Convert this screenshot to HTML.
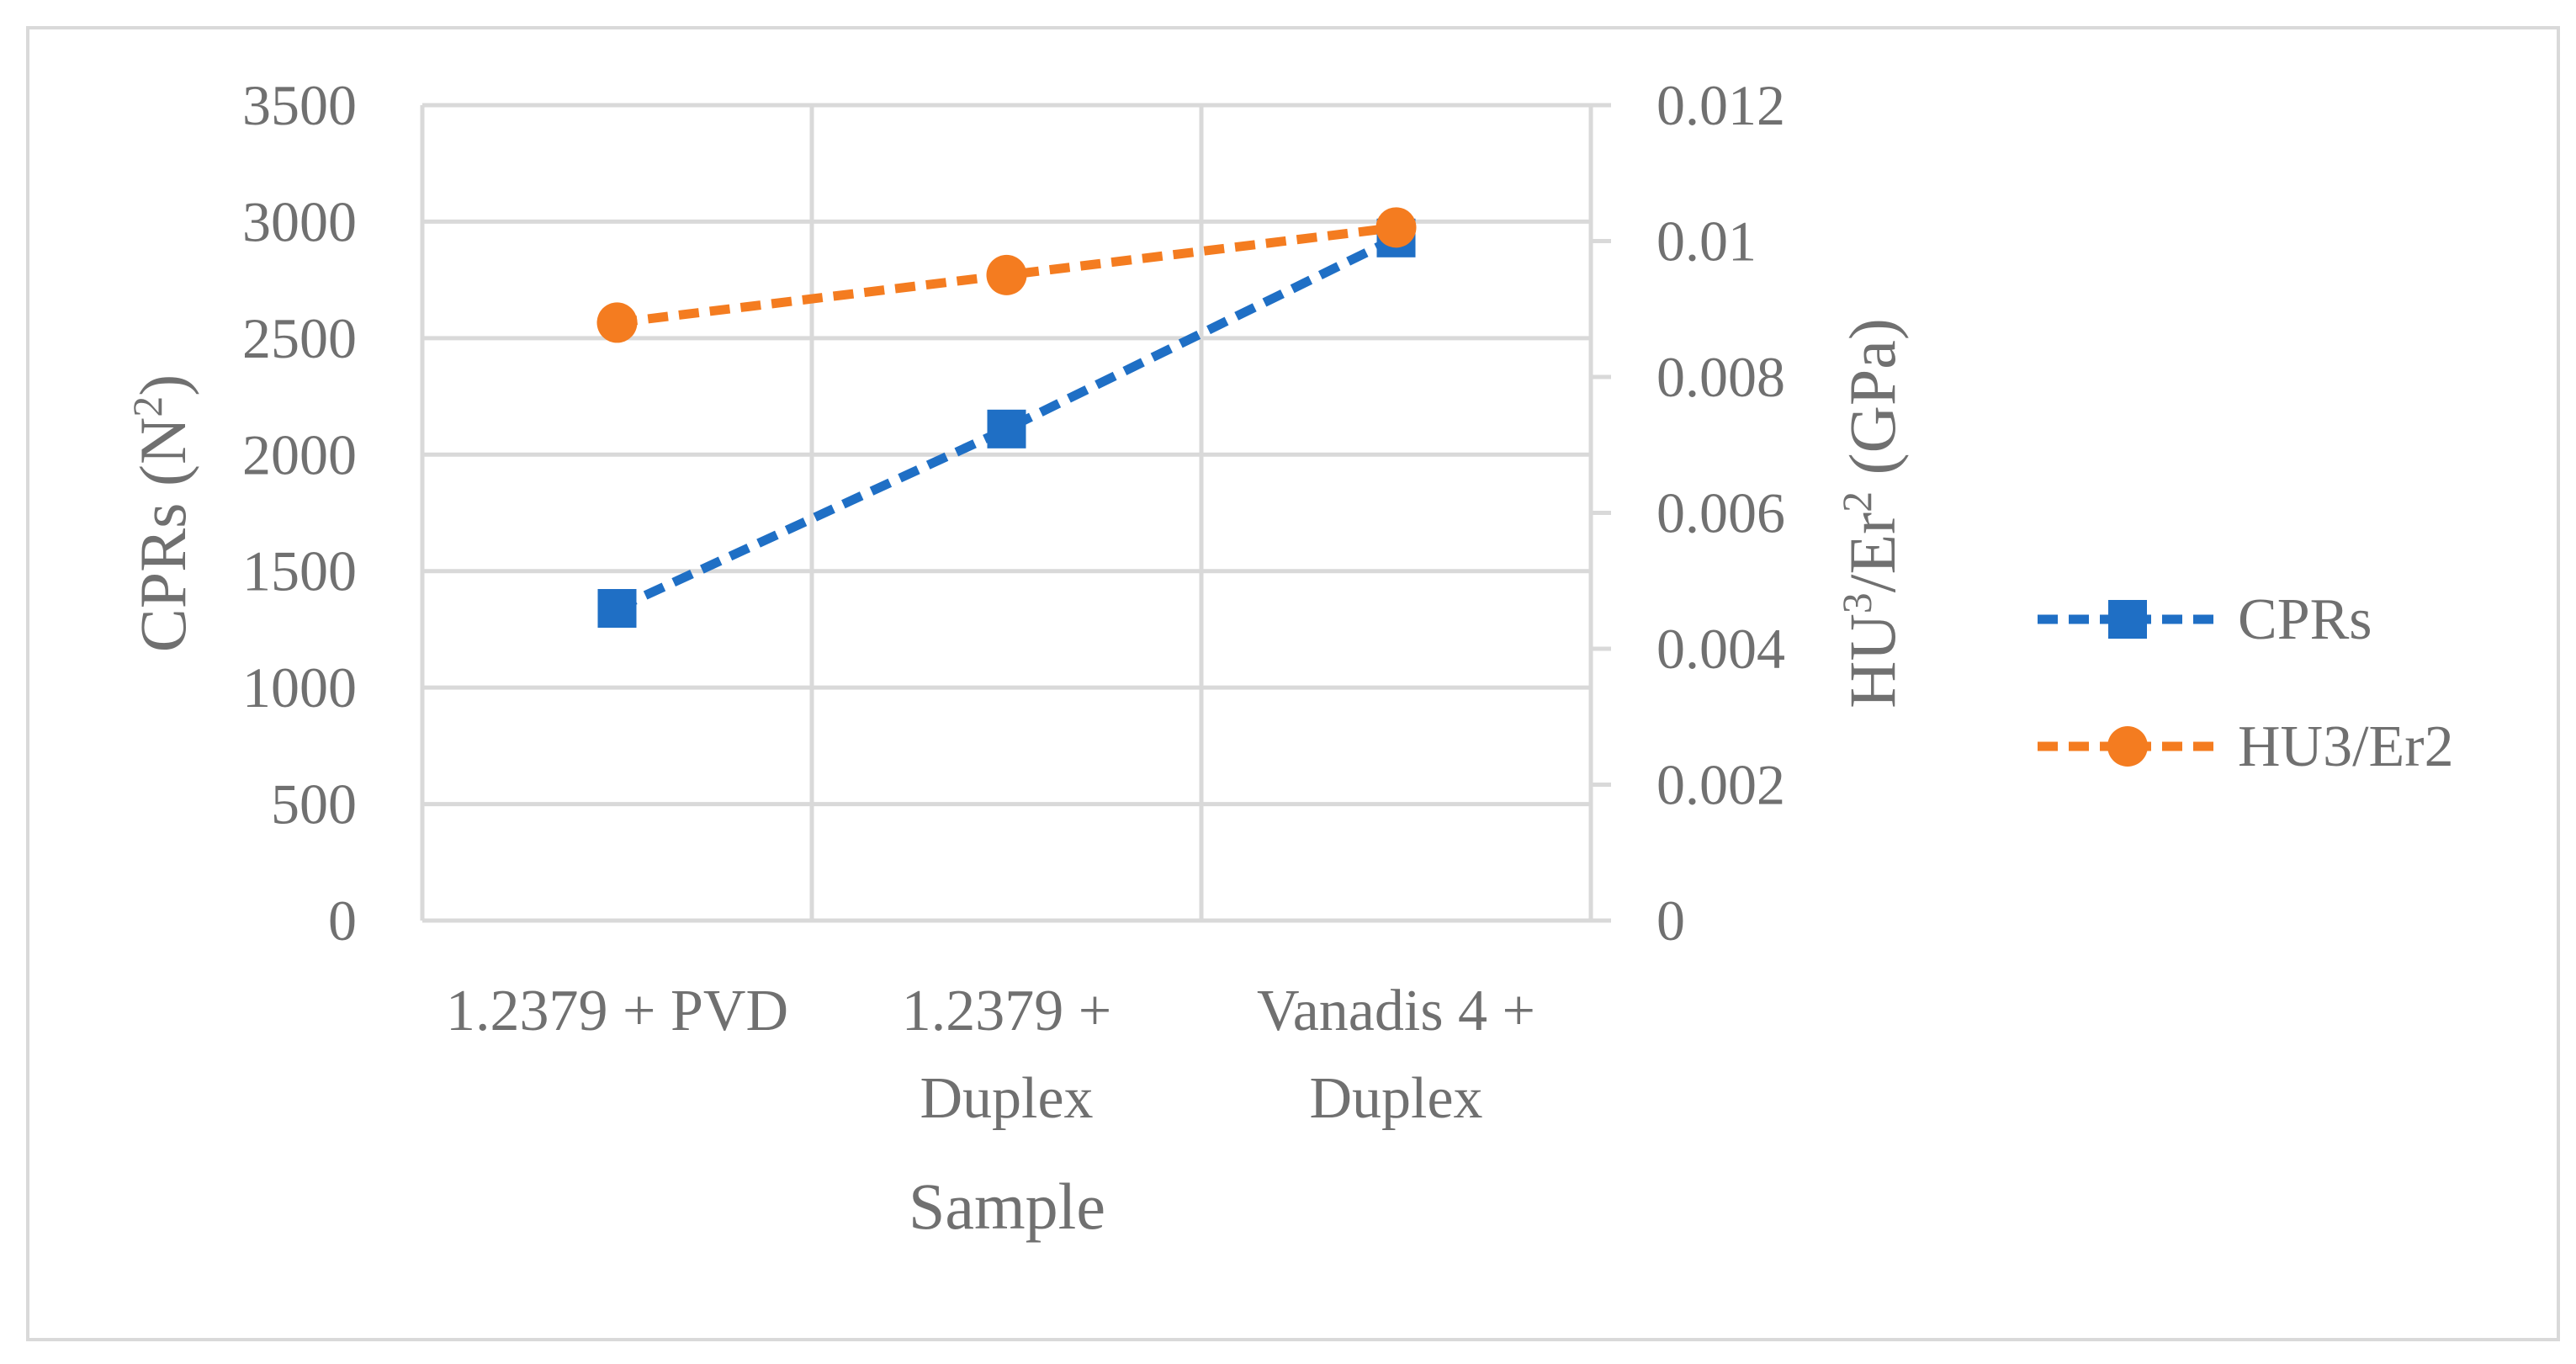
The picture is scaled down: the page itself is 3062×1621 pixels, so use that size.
<!DOCTYPE html>
<html><head><meta charset="utf-8"><style>
html,body{margin:0;padding:0;background:#fff}
svg{display:block;font-family:"Liberation Serif",serif}
</style></head><body>
<svg id="chart" width="3062" height="1621" viewBox="0 0 3062 1621" xmlns="http://www.w3.org/2000/svg">
<rect x="33" y="33" width="3008" height="1559" fill="#fff" stroke="#d9d9d9" stroke-width="4"/>
<g id="grid"></g><g id="axes"></g><g id="series"></g>
<text transform="translate(220,610) rotate(-90)" text-anchor="middle" font-size="78" fill="#707070">CPRs (N<tspan font-size="50" dy="-28">2</tspan><tspan dy="28">)</tspan></text>
<text transform="translate(2252,610) rotate(-90)" text-anchor="middle" font-size="78" fill="#707070">HU<tspan font-size="50" dy="-28">3</tspan><tspan dy="28">/Er</tspan><tspan font-size="50" dy="-28">2</tspan><tspan dy="28"> (GPa)</tspan></text>
<text x="1197" y="1460" text-anchor="middle" font-size="78" fill="#707070">Sample</text>
<g>
<g>
<line x1="2422" y1="736" x2="2637" y2="736" stroke="#1f6fc5" stroke-width="11" stroke-dasharray="24,13"/>
<rect x="2506" y="713" width="46" height="46" fill="#1f6fc5"/>
<text x="2660" y="759" font-size="70" fill="#707070">CPRs</text></g>
<g>
<line x1="2422" y1="887" x2="2637" y2="887" stroke="#f47c20" stroke-width="11" stroke-dasharray="24,13"/>
<circle cx="2529" cy="887" r="24" fill="#f47c20"/>
<text x="2660" y="910" font-size="70" fill="#707070">HU3/Er2</text></g>
</g>
</svg>
<script>
const categories=[["1.2379 + PVD"],["1.2379 +","Duplex"],["Vanadis 4 +","Duplex"]];
const cprs=[1340,2110,2930];
const hu=[0.0088,0.0095,0.0102];
const leftTicks=[0,500,1000,1500,2000,2500,3000,3500];
const rightTicks=["0","0.002","0.004","0.006","0.008","0.01","0.012"];
const NS="http://www.w3.org/2000/svg";
const L=502,R=1891,T=125,B=1094;
const y1=v=>B-(v/3500)*(B-T);
const y2=v=>B-(v/0.012)*(B-T);
const xc=i=>L+(i+0.5)*(R-L)/categories.length;
function mk(tag,attrs,parent){const e=document.createElementNS(NS,tag);for(const k in attrs)e.setAttribute(k,attrs[k]);parent.appendChild(e);return e;}
const grid=document.getElementById('grid'),axes=document.getElementById('axes'),ser=document.getElementById('series');
leftTicks.forEach(v=>{
 const g=mk('line',{x1:L,x2:R,y1:y1(v),y2:y1(v),stroke:'#d9d9d9','stroke-width':5},grid);
 
 
 const t=mk('text',{x:424,y:y1(v)+23,'text-anchor':'end','font-size':68,fill:'#707070'},axes);
 t.textContent=v;
 
 
});
for(let i=0;i<=categories.length;i++){
 const x=L+i*(R-L)/categories.length;
 const g=mk('line',{x1:x,x2:x,y1:T,y2:B,stroke:'#d9d9d9','stroke-width':5},grid);
 
 
}
rightTicks.forEach(s=>{
 const v=parseFloat(s);
 const tk=mk('line',{x1:R,x2:R+24,y1:y2(v),y2:y2(v),stroke:'#d9d9d9','stroke-width':5},axes);
 
 
 const t=mk('text',{x:1969,y:y2(v)+23,'font-size':68,fill:'#707070'},axes);
 t.textContent=s;
 
 
});
categories.forEach((c,i)=>{
 c.forEach((line,j)=>{
  const t=mk('text',{x:xc(i),y:1224+j*104,'text-anchor':'middle','font-size':70,fill:'#707070'},axes);
  t.textContent=line;
  
  
 });
});
const p1=mk('polyline',{points:cprs.map((v,i)=>xc(i)+','+y1(v)).join(' '),fill:'none',stroke:'#1f6fc5','stroke-width':11,'stroke-dasharray':'24,13'},ser);


const p2=mk('polyline',{points:hu.map((v,i)=>xc(i)+','+y2(v)).join(' '),fill:'none',stroke:'#f47c20','stroke-width':11,'stroke-dasharray':'24,13'},ser);


cprs.forEach((v,i)=>{
 const r=mk('rect',{x:xc(i)-23,y:y1(v)-23,width:46,height:46,fill:'#1f6fc5'},ser);
 
 
});
hu.forEach((v,i)=>{
 const c=mk('circle',{cx:xc(i),cy:y2(v),r:24,fill:'#f47c20'},ser);
 
 
});
</script>
</body></html>
